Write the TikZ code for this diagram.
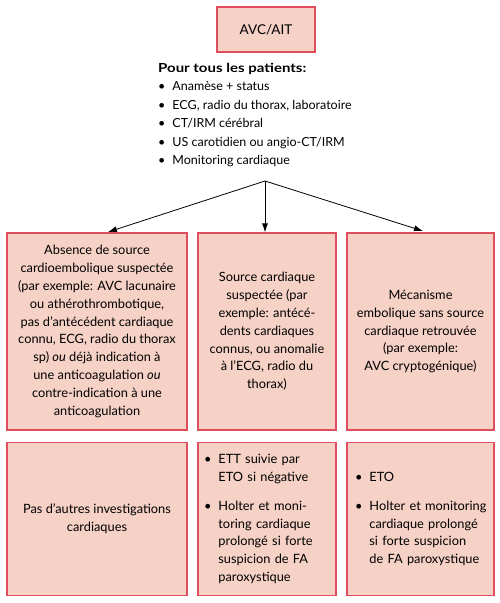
\documentclass[tikz,border=0pt]{standalone}
\usepackage{fontspec}
\setmainfont{Lato}
\usepackage{tikz}
\usetikzlibrary{arrows.meta}
\definecolor{boxfill}{RGB}{246, 209, 198}
\definecolor{boxline}{RGB}{224, 78, 94}

\begin{document}
\begin{tikzpicture}[x=1pt, y=-1pt,
  box/.style={draw=boxline, fill=boxfill, line width=1.2pt, inner sep=0pt,
    align=center, font=\fontsize{12.8}{17.8}\selectfont},
  arrow/.style={line width=0.8pt, -{Latex[length=9pt, width=6pt]}}]
  \useasboundingbox (0,0) rectangle (500,603);

  % top
  \node[box, minimum width=98, minimum height=45,
        font=\fontsize{13.5}{16}\selectfont] (avc) at (266, 29.5) {AVC/AIT};

  \node[anchor=north west, align=left, inner sep=0pt,
        font=\fontsize{12.5}{18.5}\selectfont] (tous) at (158, 63) {%
    {\addfontfeature{FakeStretch=1.2}\bfseries Pour tous les patients:}\\
    \textbullet\hspace{7pt}Anamèse + status\\
    \textbullet\hspace{7pt}ECG, radio du thorax, laboratoire\\
    \textbullet\hspace{7pt}CT/IRM cérébral\\
    \textbullet\hspace{7pt}US carotidien ou angio-CT/IRM\\
    \textbullet\hspace{7pt}Monitoring cardiaque};

  % middle row
  \node[box, minimum width=180, minimum height=197] (absence) at (97, 331.5) {%
    Absence de source\\
    cardioembolique suspectée\\
    (par exemple: AVC lacunaire\\
    ou athérothrombotique,\\
    pas d’antécédent cardiaque\\
    connu, ECG, radio du thorax\\
    sp) \textit{ou} déjà indication à\\
    une anticoagulation \textit{ou}\\
    contre-indication à une\\
    anticoagulation};

  \node[box, minimum width=138, minimum height=197] (source) at (267, 331.5) {%
    Source cardiaque\\
    suspectée (par\\
    exemple: antécé-\\
    dents cardiaques\\
    connus, ou anomalie\\
    à l’ECG, radio du\\
    thorax)};

  \node[box, minimum width=147, minimum height=197] (embol) at (420.5, 331.5) {%
    Mécanisme\\
    embolique sans source\\
    cardiaque retrouvée\\
    (par exemple:\\
    AVC cryptogénique)};

  % bottom row
  \node[box, minimum width=180, minimum height=153] (pas) at (97, 519) {%
    Pas d’autres investigations\\
    cardiaques};

  \node[box, minimum width=138, minimum height=153, inner xsep=6pt,
        text width=126, align=left] (ett) at (267, 519) {%
    \begin{tabular}{@{}l@{\hspace{7pt}}l@{}}
      \textbullet & ETT suivie par\\
                  & ETO si négative\\[11pt]
      \textbullet & Holter et moni-\\
                  & toring cardiaque\\
                  & prolongé si forte\\
                  & suspicion de FA\\
                  & paroxystique
    \end{tabular}};

  \node[box, minimum width=147, minimum height=153, inner xsep=8pt,
        text width=131, align=left] (eto) at (420.5, 519) {%
    \begin{tabular}{@{}l@{\hspace{7pt}}l@{}}
      \textbullet & ETO\\[11pt]
      \textbullet & Holter et monitoring\\
                  & cardiaque prolongé\\
                  & si forte suspicion\\
                  & de FA paroxystique
    \end{tabular}};

  % arrows
  \coordinate (split) at (265, 181);
  \coordinate (tipL) at (108, 232);
  \coordinate (tipR) at (423, 231);
  \draw[arrow] (split) -- (tipL);
  \draw[arrow] (split) -- (split |- source.north);
  \draw[arrow] (split) -- (tipR);

\end{tikzpicture}
\end{document}
